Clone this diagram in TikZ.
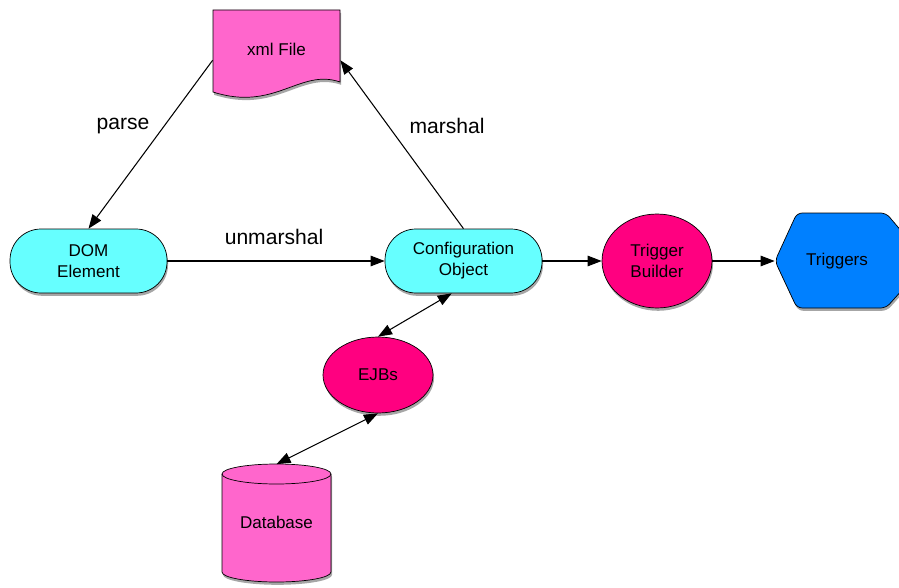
\documentclass[tikz,border=0pt]{standalone}
\usepackage{fontspec}
\setmainfont{Liberation Sans}
\usetikzlibrary{shapes.geometric,arrows.meta,shadows}
\definecolor{filepink}{HTML}{FF66CC}
\definecolor{objcyan}{HTML}{66FFFF}
\definecolor{beanred}{HTML}{FF0080}
\definecolor{outblue}{HTML}{0080FF}
\tikzset{
    shade/.style={drop shadow={shadow xshift=0.6pt, shadow yshift=-1.6pt, opacity=0.35, fill=black}},
    pill/.style={draw, fill=objcyan, rounded corners=0.62cm, minimum width=3.14cm, minimum height=1.28cm, align=center, font=\fontsize{9.7}{12}\selectfont, shade},
    blob/.style={draw, ellipse, fill=beanred, align=center, font=\fontsize{9.7}{12}\selectfont, shade},
    ghost/.style={minimum width=#1, inner sep=0pt, font=\fontsize{9.7}{12}\selectfont},
    flow/.style={-{Triangle[length=8pt,width=6pt]}, line width=0.6pt},
    both/.style={{Triangle[length=8pt,width=6pt]}-{Triangle[length=8pt,width=6pt]}, line width=0.6pt},
    tag/.style={font=\fontsize{12}{14}\selectfont}
}
\begin{document}
\begin{tikzpicture}[x=0.02cm, y=-0.02cm]
    \useasboundingbox (0, 0) rectangle (899, 588);
        \draw[fill=filepink, shade] (213, 10) -- (340, 10) -- (340, 82)
            .. controls (300, 68) and (275, 112) .. (213, 92) -- cycle;
            \node[ghost=2.54cm, minimum height=1.56cm] (xml) at (276.5, 49){xml File};
        \draw[fill=outblue, shade, rounded corners=3pt] (775, 261) -- (797, 213) -- (886, 213)
            -- (903, 233) -- (903, 289) -- (886, 308) -- (797, 308) -- cycle;
            \node[ghost=2.48cm, minimum height=1.9cm] (trig) at (837, 261){Triggers};
        \draw[fill=filepink, shade] (222, 474) -- (222, 572) arc[start angle=180, end angle=360, x radius=54.5, y radius=-10]
            -- (331, 474) arc[start angle=0, end angle=180, x radius=54.5, y radius=-10] -- cycle;
        \draw (222, 474) arc[start angle=180, end angle=360, x radius=54.5, y radius=-10];
            \node[ghost=2.18cm, minimum height=2.3cm] (db) at (276.5, 522){Database};
        \node[pill] (dom) at (88.5, 261){DOM\\Element};
        \node[pill] (conf) at (463.5, 261){Configuration\\Object};
        \node[blob, minimum width=2.2cm, minimum height=1.88cm] (tb) at (657, 261){Trigger\\Builder};
        \node[blob, minimum width=2.2cm, minimum height=1.52cm] (ejb) at (378, 375){EJBs};
        \draw[flow] (xml.190) to (dom.north);
            \node[tag] (parse) at (123, 126){parse};
        \draw[flow] (conf.north) to (xml.-10);
            \node[tag] (marsh) at (447, 126){marshal};
        \draw[flow] (dom.east) to (conf.west);
            \node[tag] (unmarsh) at (274, 237){unmarshal};
        \draw[flow] (conf.east) to (tb.west);
        \draw[flow] (tb.east) to (trig.west);
        \draw[both] (ejb.north) to (conf.250);
        \draw[both] (db.north) to (ejb.south);
\end{tikzpicture}
\end{document}
